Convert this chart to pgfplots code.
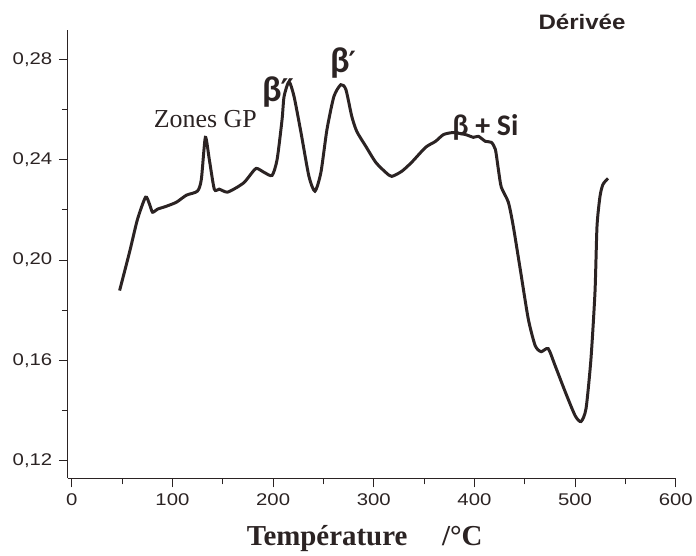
\documentclass[border=0pt]{standalone}
\usepackage{fontspec}
\setmainfont{Liberation Sans}
\newfontfamily\tickfont[FakeStretch=1.2]{Liberation Sans}
\newfontfamily\titlefont[FakeStretch=1.15]{Liberation Sans}
\newfontfamily\timesfont{Liberation Serif}
\newfontfamily\calfont{Carlito}
\newfontfamily\primefont{DejaVu Sans}
\usepackage{pgfplots}
\pgfplotsset{compat=1.18}
\definecolor{ink}{HTML}{2B2323}

\begin{document}
\begin{tikzpicture}
\begin{axis}[
    scale only axis, width=610pt, height=450pt,
    xmin=-4, xmax=600, ymin=0.1128, ymax=0.2919,
    axis x line*=bottom, axis y line*=left,
    axis line style={-, ink, line width=1pt},
    xtick={0,100,...,600}, minor xtick={50,150,...,550},
    ytick={0.12,0.16,0.20,0.24,0.28}, minor ytick={0.14,0.18,0.22,0.26},
    tick align=outside, major tick length=9pt, minor tick length=6pt,
    tick style={ink, line width=1pt},
    ticklabel style={font=\tickfont\fontsize{17}{17}\selectfont, text=ink},
    xticklabel style={yshift=-3pt},
    yticklabel style={xshift=-3pt},
    /pgf/number format/assume math mode=true,
    yticklabel style={/pgf/number format/.cd, use comma, fixed, fixed zerofill, precision=2},
    clip=false,
]
\addplot[ink, line width=3pt, smooth, tension=0.4] coordinates {
(47.5,0.1878) (57.4,0.2032) (65.3,0.2163) (73.3,0.2251) (77.2,0.2223)
(80.2,0.2191) (85.1,0.2203) (94.1,0.2215) (104.0,0.2231) (113.9,0.2259)
(124.8,0.2275) (128.7,0.2322) (132.7,0.2490) (136.6,0.2402) (141.6,0.2283)
(146.5,0.2283) (154.5,0.2271) (164.4,0.2291) (171.3,0.2310) (176.2,0.2334)
(183.2,0.2366) (191.1,0.2350) (199.0,0.2338) (204.0,0.2402) (208.9,0.2561)
(210.9,0.2653) (215.8,0.2712) (220.8,0.2653) (227.7,0.2509) (235.6,0.2334)
(241.6,0.2275) (247.5,0.2350) (253.5,0.2521) (260.4,0.2653) (267.3,0.2700)
(272.3,0.2681) (278.2,0.2573) (283.2,0.2513) (292.1,0.2454) (302.0,0.2390)
(311.9,0.2350) (317.8,0.2334) (327.7,0.2354) (337.6,0.2390) (351.5,0.2450)
(361.4,0.2474) (369.3,0.2501) (379.2,0.2509) (391.1,0.2501) (399.0,0.2490)
(404.0,0.2494) (410.9,0.2474) (416.8,0.2470) (420.8,0.2442) (423.8,0.2362)
(426.7,0.2291) (433.7,0.2231) (438.6,0.2135) (445.5,0.1964) (453.5,0.1765)
(460.4,0.1658) (466.3,0.1634) (473.3,0.1646) (480.2,0.1578) (490.1,0.1475)
(500.0,0.1379) (505.9,0.1355) (510.9,0.1407) (515.8,0.1606) (519.8,0.1873)
(521.8,0.2135) (524.8,0.2255) (527.7,0.2302) (532.7,0.2326)
};
\node[text=ink, font=\timesfont\fontsize{26}{26}\selectfont] at (axis cs:132.7,0.2561) {Zones GP};
\node[text=ink, font=\calfont\bfseries\fontsize{36}{36}\selectfont, inner sep=0pt] at (axis cs:205,0.2669) {β\kern-1pt\raisebox{1pt}{\primefont\fontsize{30}{30}\selectfont ″}};
\node[text=ink, font=\calfont\bfseries\fontsize{36}{36}\selectfont, inner sep=0pt] at (axis cs:269.5,0.2788) {β\kern-1pt\raisebox{1pt}{\primefont\fontsize{28}{28}\selectfont ′}};
\node[text=ink, font=\calfont\bfseries\fontsize{30}{30}\selectfont] at (axis cs:410.9,0.2529) {β + Si};
\node[text=ink, font=\titlefont\bfseries\fontsize{21}{21}\selectfont] at (axis cs:506.9,0.2951) {Dérivée};
\node[text=ink, font=\timesfont\bfseries\fontsize{29}{29}\selectfont] at (axis cs:291,0.0889) {Température\hspace{1.2em}/°C};
\coordinate (sw) at (rel axis cs:0,0);
\end{axis}
\path ([xshift=-68pt,yshift=-77pt]sw) rectangle ([xshift=628pt,yshift=480pt]sw);
\end{tikzpicture}
\end{document}
